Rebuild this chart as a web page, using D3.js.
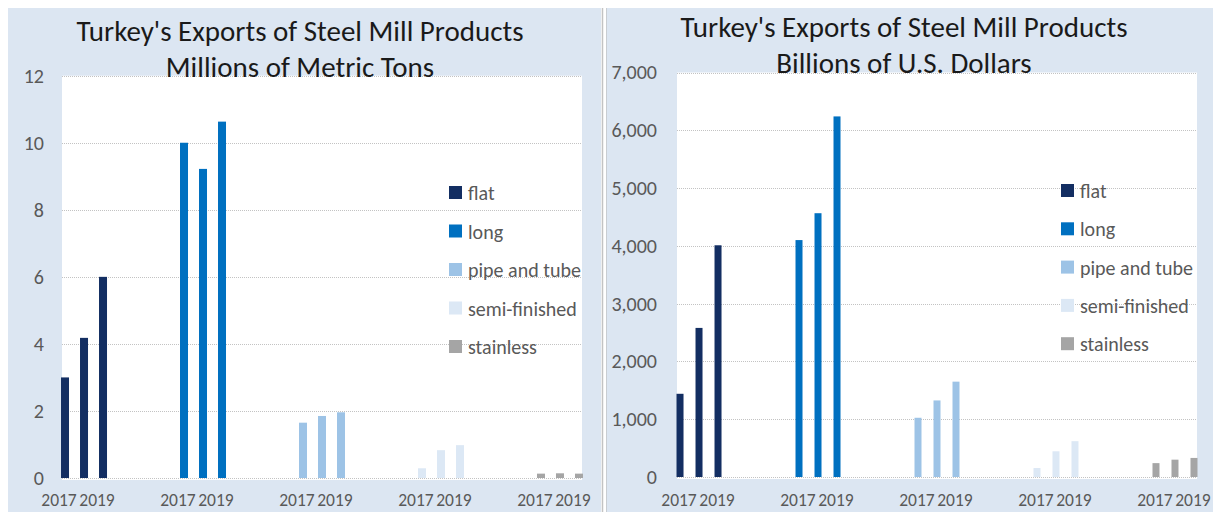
<!DOCTYPE html>
<html>
<head>
<meta charset="utf-8">
<script src="https://cdn.jsdelivr.net/npm/d3@7"></script>
<style>
  html, body { margin: 0; padding: 0; background: #ffffff; }
  svg { display: block; }
  text { font-family: Carlito, Calibri, Lato, "Open Sans", sans-serif; }
</style>
</head>
<body>
<svg id="chart" width="1223" height="512"></svg>
<script>
// Product groups and years
const categories = ["flat", "long", "pipe and tube", "semi-finished", "stainless"];
const years = ["2017", "2018", "2019"];
const yearTickLabels = ["2017", "", "2019"];
const seriesColors = ["#132e62", "#0070c0", "#9dc3e6", "#dce8f5", "#a5a5a5"];

// Export volume, millions of metric tons (2017, 2018, 2019)
const tonsFlat = [3.0, 4.18, 6.0];
const tonsLong = [10.0, 9.22, 10.63];
const tonsPipe = [1.65, 1.85, 1.96];
const tonsSemi = [0.29, 0.83, 0.98];
const tonsStainless = [0.13, 0.14, 0.13];
const tonTicks = [0, 2, 4, 6, 8, 10, 12];

// Export value (2017, 2018, 2019)
const usdFlat = [1440, 2580, 4010];
const usdLong = [4100, 4565, 6240];
const usdPipe = [1025, 1325, 1650];
const usdSemi = [155, 445, 620];
const usdStainless = [240, 300, 330];
const usdTicks = [0, 1000, 2000, 3000, 4000, 5000, 6000, 7000];

const svg = d3.select("#chart");
const bgBlue = "#dce6f2";

function drawPanel(cfg) {
  const g = svg.append("g");

  // panel background
  g.append("rect")
    .attr("x", cfg.panel[0]).attr("y", 8)
    .attr("width", cfg.panel[1] - cfg.panel[0]).attr("height", 512 - 8)
    .attr("fill", bgBlue);

  // plot area
  g.append("rect")
    .attr("x", cfg.plotX[0]).attr("y", cfg.plotY[1])
    .attr("width", cfg.plotX[1] - cfg.plotX[0])
    .attr("height", cfg.plotY[0] - cfg.plotY[1] + 2)
    .attr("fill", "#ffffff");

  const y = d3.scaleLinear()
    .domain([0, cfg.ticks[cfg.ticks.length - 1]])
    .range(cfg.plotY);

  const x = d3.scalePoint()
    .domain(categories)
    .range(cfg.plotX)
    .padding(0.185);

  const xYear = d3.scalePoint()
    .domain(years)
    .range([-cfg.yearStep, cfg.yearStep]);

  // dotted gridlines
  g.append("g")
    .selectAll("line")
    .data(cfg.ticks)
    .join("line")
    .attr("x1", cfg.plotX[0]).attr("x2", cfg.plotX[1])
    .attr("y1", d => Math.round(y(d)) + 0.5)
    .attr("y2", d => Math.round(y(d)) + 0.5)
    .attr("stroke", "#c3c3c3")
    .attr("stroke-width", 1)
    .attr("stroke-dasharray", "1,1");

  // y axis labels
  const yAxis = d3.axisLeft(y)
    .tickValues(cfg.ticks)
    .tickFormat(cfg.format)
    .tickSize(0)
    .tickPadding(0);
  g.append("g")
    .attr("transform", `translate(${cfg.tickRight},0)`)
    .call(yAxis)
    .call(a => a.select(".domain").remove())
    .call(a => a.selectAll("text")
      .attr("fill", "#595959")
      .style("font-size", "20px")
      .style("font-family", "Carlito, Calibri, Lato, sans-serif"));

  // bars
  const bars = [];
  cfg.series.forEach((vals, si) => {
    vals.forEach((v, yi) => bars.push({ cat: categories[si], year: years[yi], value: v, color: seriesColors[si] }));
  });
  g.append("g")
    .selectAll("rect")
    .data(bars)
    .join("rect")
    .attr("x", d => x(d.cat) + xYear(d.year) - cfg.barWidth / 2)
    .attr("y", d => y(d.value))
    .attr("width", cfg.barWidth)
    .attr("height", d => y(0) - y(d.value))
    .attr("fill", d => d.color);

  // year labels under each group
  const yearLabels = [];
  categories.forEach(c => years.forEach((yr, i) => {
    if (yearTickLabels[i]) yearLabels.push({ cat: c, year: yr, text: yearTickLabels[i] });
  }));
  g.append("g")
    .selectAll("text")
    .data(yearLabels)
    .join("text")
    .attr("x", d => x(d.cat) + xYear(d.year) + cfg.labelShift)
    .attr("y", 506)
    .attr("text-anchor", "middle")
    .attr("fill", "#595959")
    .style("font-size", "17.5px")
    .text(d => d.text);

  // title
  const title = g.append("text")
    .attr("text-anchor", "middle")
    .attr("fill", "#1a1a1a")
    .style("font-size", "29px");
  cfg.title.forEach((line, i) => {
    title.append("tspan")
      .attr("x", cfg.titleX)
      .attr("y", cfg.titleY + i * 36)
      .text(line);
  });

  // legend
  const legend = g.append("g")
    .selectAll("g")
    .data(categories)
    .join("g")
    .attr("transform", (d, i) => `translate(${cfg.legendX},${cfg.legendY + i * cfg.legendStep})`);
  legend.append("rect")
    .attr("x", 0).attr("y", -7)
    .attr("width", 13).attr("height", 13)
    .attr("fill", (d, i) => seriesColors[i]);
  legend.append("text")
    .attr("x", 19).attr("y", 0)
    .attr("dy", "0.35em")
    .attr("fill", "#595959")
    .style("font-size", "20px")
    .text(d => d);
}

drawPanel({
  panel: [8, 601],
  plotX: [62, 582],
  plotY: [478, 75.7],
  ticks: tonTicks,
  format: d3.format("d"),
  tickRight: 44,
  series: [tonsFlat, tonsLong, tonsPipe, tonsSemi, tonsStainless],
  yearStep: 19,
  barWidth: 8,
  labelShift: -6,
  title: ["Turkey's Exports of Steel Mill Products", "Millions of Metric Tons"],
  titleX: 300,
  titleY: 41,
  legendX: 449,
  legendY: 193,
  legendStep: 38.5
});

drawPanel({
  panel: [607, 1213],
  plotX: [677, 1197],
  plotY: [477, 72.5],
  ticks: usdTicks,
  format: d3.format(","),
  tickRight: 657,
  series: [usdFlat, usdLong, usdPipe, usdSemi, usdStainless],
  yearStep: 19,
  barWidth: 7,
  labelShift: -1,
  title: ["Turkey's Exports of Steel Mill Products", "Billions of U.S. Dollars"],
  titleX: 904,
  titleY: 37,
  legendX: 1061,
  legendY: 191,
  legendStep: 38.3
});

// divider between the two panels
svg.append("line")
  .attr("x1", 602.5).attr("x2", 602.5).attr("y1", 8).attr("y2", 512)
  .attr("stroke", "#c3c3c3").attr("stroke-width", 1.5);
svg.append("line")
  .attr("x1", 606.5).attr("x2", 606.5).attr("y1", 8).attr("y2", 512)
  .attr("stroke", "#c9cdd2").attr("stroke-width", 1);
</script>
</body>
</html>
